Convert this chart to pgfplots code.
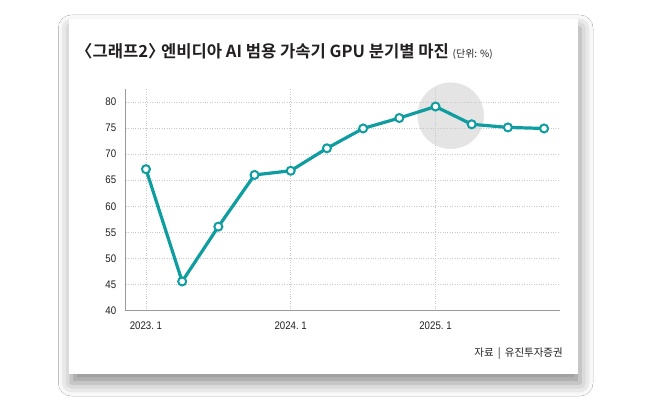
\documentclass[border=0pt]{standalone}
\usepackage{fontspec}
\usepackage{pgfplots}
\pgfplotsset{compat=1.18}
\usetikzlibrary{shadows.blur}
\setmainfont{Liberation Sans}
\newfontfamily\krfont{Noto Sans CJK KR}[BoldFont={Noto Sans CJK KR Bold}]
\newfontfamily\tickfont{Liberation Sans}[FakeStretch=0.88]
\definecolor{teal2}{HTML}{0F9DA0}
\definecolor{gridc}{HTML}{C8C8C8}
\definecolor{axc}{HTML}{9A9A9A}
\definecolor{txt}{HTML}{231F20}
\definecolor{circ}{HTML}{E4E4E4}
\pgfplotsset{base/.style={
  at={(125.7pt,91.3pt)}, anchor=south west,
  scale only axis, width=434.3pt, height=221.4pt,
  xmin=-0.56, xmax=11.44, ymin=40, ymax=82.4,
  clip=false}}
\begin{document}
\begin{tikzpicture}
\useasboundingbox (0,0) rectangle (650pt,402pt);
\fill[white] (0,0) rectangle (650pt,402pt);
\fill[white, blur shadow={shadow xshift=2pt, shadow yshift=-9pt, shadow blur radius=13pt, shadow opacity=45}] (69.3pt,28pt) rectangle (578pt,383pt);
\begin{axis}[base, hide axis]
\addplot[only marks, mark=*, mark size=33pt, draw=circ, fill=circ, mark options={fill=circ, draw=circ}] coordinates {(8.42,77.34)};
\end{axis}
\begin{axis}[
  base,
  axis x line*=bottom, axis y line*=left,
  axis line style={-, axc, line width=0.8pt},
  xtick={0,4,8}, xticklabels={2023.\ 1, 2024.\ 1, 2025.\ 1},
  ytick={40,45,...,80},
  major tick length=0pt,
  grid=major,
  major grid style={gridc, dotted, line width=0.6pt},
  tick label style={font=\tickfont\fontsize{11}{12}\selectfont, text=txt},
  xticklabel style={yshift=-7.5pt},
  yticklabel style={xshift=-6pt},
  /pgf/number format/assume math mode=true,
]
\addplot[teal2, line width=3.2pt, mark=*, mark size=4pt, mark options={fill=white, draw=teal2, line width=2pt}] coordinates {
(0,67.1) (1,45.6) (2,56.1) (3,66.0) (4,66.8) (5,71.1) (6,74.9) (7,76.9) (8,79.1) (9,75.7) (10,75.1) (11,74.9)
};
\end{axis}
\node[anchor=base west, inner sep=0, font=\krfont\bfseries\fontsize{16.6}{18}\selectfont, text=txt] at (84pt,344pt) {\kern-0.5em〈그래프2〉\kern-0.45em\ 엔비디아 AI 범용 가속기 GPU 분기별 마진 {\mdseries\fontsize{10}{11}\selectfont (단위: \%)}};
\node[anchor=east, inner sep=0, font=\krfont\fontsize{10.5}{12}\selectfont, text=txt] at (563pt,48pt) {자료 \,|\, 유진투자증권};
\end{tikzpicture}
\end{document}
